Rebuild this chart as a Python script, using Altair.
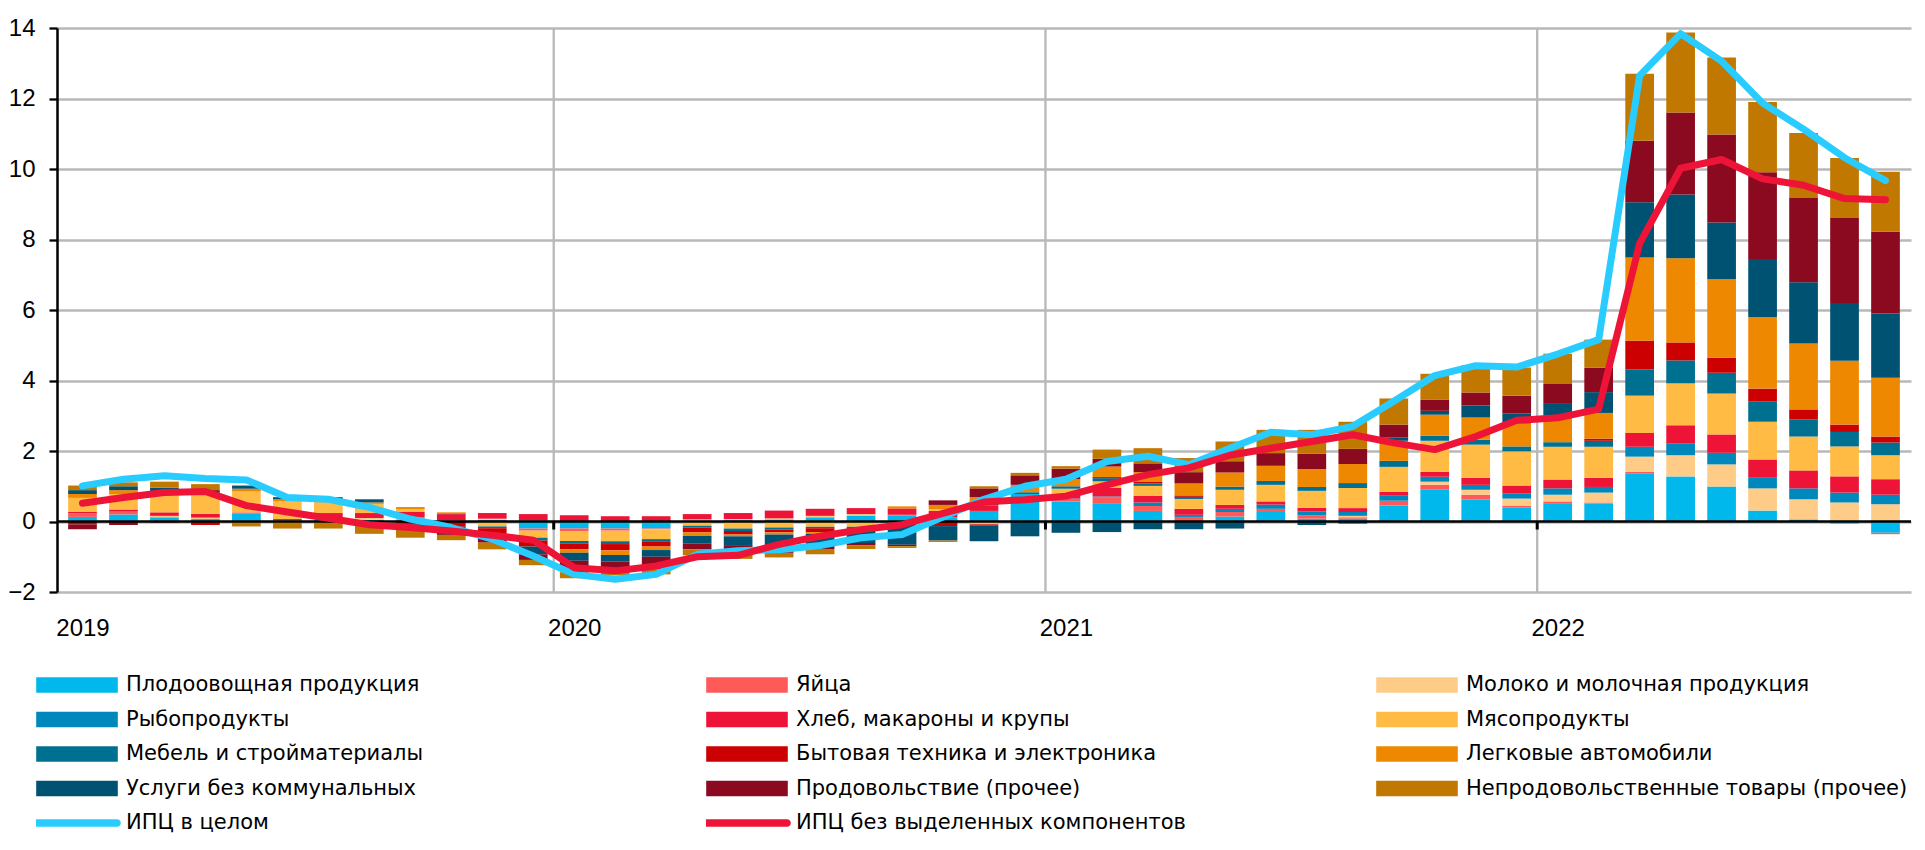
import altair as alt
import pandas as pd

# ---------------- data ----------------
years = ["2019", "2020", "2021", "2022"]
n_months = 45  # Jan 2019 .. Sep 2022

series = [
    "Плодоовощная продукция", "Яйца", "Молоко и молочная продукция",
    "Рыбопродукты", "Хлеб, макароны и крупы", "Мясопродукты",
    "Мебель и стройматериалы", "Бытовая техника и электроника", "Легковые автомобили",
    "Услуги без коммунальных", "Продовольствие (прочее)", "Непродовольственные товары (прочее)",
]
colors = [
    "#00B8EC", "#FF5A5A", "#FFCC88",
    "#0087BB", "#EE1438", "#FFBB44",
    "#007090", "#CC0000", "#EE8800",
    "#005272", "#8C0A20", "#C07800",
]
line_names = ["ИПЦ в целом", "ИПЦ без выделенных компонентов"]
line_colors = ["#29CCFF", "#EE1438"]

plod = [.13, .20, .12, .07, .22, .03, .05, .05, 0, .03,
        .05, -.20, -.20, -.20, -.20, .03, .04, .06, .12, .17,
        .18, .12, .30, .78, .57, .52, .30, 0, .14, .27,
        .08, .08, .45, .90, .62, .39, .52, .51, 1.37, 1.28,
        .99, .31, .06, -.06, -.32]
eggs = [.10, .08, 0, 0, .04, 0, 0, 0, .06, 0,
        0, -.06, -.08, -.06, -.02, 0, 0, 0, 0, 0,
        0, 0, 0, 0, .05, .17, .14, .13, .13, .09,
        .09, .04, .14, .14, .14, .06, .05, .03, .04, 0,
        0, 0, 0, 0, -.04]
milk = [0, 0, .04, .04, 0, 0, .05, .05, .05, 0,
        .03, 0, 0, 0, 0, .03, .03, .03, .04, .04,
        .01, 0, 0, 0, 0, 0, 0, 0, 0, 0,
        0, .04, 0, .09, .14, .20, .19, .28, .43, .60,
        .63, .63, .57, .54, .49]
fish = [0, 0, 0, 0, 0, 0, 0, 0, 0, 0,
        0, .03, 0, 0, 0, 0, 0, 0, 0, 0,
        0, 0, 0, 0, .03, .02, .10, .06, .09, .12,
        .11, .11, .14, .14, .14, .14, .18, .16, .28, .34,
        .33, .30, .31, .28, .27]
bread = [.04, .06, .10, .11, 0, .04, .14, .14, .16, .18,
         .16, .18, .18, .15, .15, .15, .17, .22, .20, .17,
         .18, .18, .15, 0, .08, .24, .19, .17, .11, .09,
         .11, .11, .11, .14, .20, .23, .25, .26, .39, .51,
         .52, .52, .51, .46, .44]
meat = [.40, .44, .55, .57, .59, .50, .30, .26, .08, 0,
        -.14, -.20, -.27, -.30, -.28, -.12, -.20, -.17, -.15, -.15,
        -.06, .05, -.08, 0, .20, .19, .28, .28, .43, .47,
        .48, .57, .71, .88, .94, .97, .93, .88, 1.06, 1.19,
        1.16, 1.07, .96, .85, .68]
furniture = [0, 0, 0, 0, 0, 0, 0, 0, 0, .02,
             -.05, -.08, -.08, -.08, -.06, -.05, -.07, -.06, -.04, -.04,
             0, 0, .05, .05, .07, .09, .07, .06, .09, .11,
             .11, .14, .17, .14, .14, .14, .13, .17, .74, .65,
             .59, .57, .49, .41, .36]
appliances = [-.08, 0, -.03, -.10, 0, 0, 0, 0, -.08, -.15,
              -.14, -.17, -.16, -.18, -.15, -.14, -.10, -.08, -.11, 0,
              0, -.13, -.04, 0, 0, .03, .04, .04, 0, 0,
              0, 0, 0, 0, 0, 0, 0, .06, .82, .51,
              .43, .37, .28, .21, .17]
cars = [.11, .11, .05, 0, .08, .06, .05, .04, .06, .03,
        0, 0, -.10, -.13, -.10, -.10, -.05, -.06, -.05, 0,
        .06, .12, .19, .21, .20, .30, .28, .34, .40, .43,
        .51, .54, .57, .60, .63, .65, .76, .73, 2.36, 2.39,
        2.22, 2.03, 1.87, 1.81, 1.67]
services = [.11, .11, .10, .04, .09, .06, .10, .09, -.08, -.05,
            -.03, -.22, -.22, -.19, -.19, -.21, -.25, -.33, -.33, -.42,
            -.60, -.41, -.44, -.42, -.32, -.30, -.22, -.22, -.20, 0,
            -.10, -.06, .09, .11, .34, .28, .35, .59, 1.57, 1.81,
            1.61, 1.65, 1.74, 1.64, 1.82]
food_other = [-.14, -.10, 0, .06, 0, 0, 0, 0, 0, -.18,
              -.24, -.16, -.33, -.28, -.36, -.17, -.15, -.19, -.10, -.06,
              -.04, .13, .25, .27, .30, .22, .25, .32, .32, .36,
              .43, .43, .37, .31, .37, .51, .54, .69, 1.74, 2.32,
              2.50, 2.46, 2.39, 2.41, 2.32]
nonfood_other = [.13, .11, .17, .17, -.14, -.20, -.20, -.35, -.30, -.15,
                 -.19, -.15, -.17, -.11, -.14, -.17, -.24, -.13, -.15, -.11,
                 -.05, -.04, .06, .07, .07, .26, .43, .40, .56, .66,
                 .68, .77, .74, .74, .77, .80, .86, .80, 1.90, 2.27,
                 2.18, 1.99, 1.84, 1.70, 1.70]

cpi = [1.01, 1.20, 1.30, 1.22, 1.18, 0.68, 0.63, 0.40, 0.07,
       -0.17, -0.50, -0.98, -1.50, -1.64, -1.50, -0.93, -0.83,
       -0.80, -0.68, -0.46, -0.37, 0.13, 0.63, 1.00, 1.20,
       1.70, 1.85, 1.61, 2.08, 2.53, 2.46, 2.70, 3.41, 4.14, 4.42, 4.38,
       4.75, 5.16, 12.65, 13.84, 13.06, 11.87, 11.13, 10.32, 9.67]
core = [0.52, 0.68, 0.82, 0.85, 0.45, 0.27, 0.09, -0.09, -0.17,
        -0.27, -0.39, -0.53, -1.31, -1.40, -1.26, -1.00, -0.96,
        -0.65, -0.42, -0.23, -0.09, 0.23, 0.55, 0.62, 0.72,
        1.04, 1.33, 1.52, 1.88, 2.08, 2.27, 2.46, 2.23, 2.04, 2.41, 2.87,
        2.94, 3.19, 7.89, 10.02, 10.27, 9.72, 9.54, 9.16, 9.13]

component_values = [plod, eggs, milk, fish, bread, meat, furniture, appliances,
                    cars, services, food_other, nonfood_other]

# ---------------- tables ----------------
bar_rows = []
for k, (name, arr) in enumerate(zip(series, component_values)):
    for t, v in enumerate(arr):
        if v != 0:
            bar_rows.append({"t": t, "series": name, "k": k, "v": v})
bars_df = pd.DataFrame(bar_rows)

line_rows = []
for name, arr in zip(line_names, [cpi, core]):
    for t, v in enumerate(arr):
        line_rows.append({"t": t, "series": name, "v": v})
lines_df = pd.DataFrame(line_rows)

year_starts = [12 * i for i in range(len(years))]
bounds_df = pd.DataFrame({"b": [s - 0.5 for s in year_starts[1:]]})
zero_df = pd.DataFrame({"y": [0]})

# ---------------- scales ----------------
xscale = alt.Scale(domain=[-0.5, n_months - 0.5], nice=False, zero=False)
yscale = alt.Scale(domain=[-2, 14], nice=False)

# legend is laid out column by column: 3 columns, 5 rows
all_names = series + line_names
all_colors = colors + line_colors
col1 = [series[0], series[3], series[6], series[9], line_names[0]]
col2 = [series[1], series[4], series[7], series[10], line_names[1]]
col3 = [series[2], series[5], series[8], series[11]]
legend_order = col1 + col2 + col3
color_lookup = dict(zip(all_names, all_colors))
color_scale = alt.Scale(domain=legend_order, range=[color_lookup[n] for n in legend_order])

rect_path = "M-1,-0.1875L1,-0.1875L1,0.1875L-1,0.1875Z"
caps_path = ("M-0.98,-0.094L0.98,-0.094A0.094,0.094,0,0,1,0.98,0.094"
             "L-0.98,0.094A0.094,0.094,0,0,1,-0.98,-0.094Z")
sym_expr = f"indexof(datum.value, 'ИПЦ') == 0 ? '{caps_path}' : '{rect_path}'"

label_expr = "[" + ",".join(f"'{y}'" for y in years) + "][round(datum.value / 12)]"

x_axis = alt.Axis(values=year_starts, labelExpr=label_expr, grid=False, ticks=False,
                  tickSize=0, domain=False, labelFont="Liberation Sans", labelFontSize=24,
                  labelColor="black", labelPadding=24, labelAngle=0, title=None)
y_axis = alt.Axis(values=list(range(-2, 15, 2)), grid=True, gridColor="#b8b8b8",
                  gridWidth=2.3, domain=True, domainColor="black", domainWidth=2.5,
                  ticks=True, tickColor="black", tickWidth=2.3, tickSize=8,
                  labelFont="Liberation Sans", labelFontSize=24, labelColor="black",
                  labelPadding=14, title=None)

legend = alt.Legend(
    orient="none", legendX=-21, legendY=644, columns=3, title=None,
    symbolType=alt.ExprRef(expr=sym_expr), symbolSize=6659, symbolStrokeWidth=0,
    symbolOpacity=1, labelFont="DejaVu Sans", labelFontSize=21, labelColor="black",
    labelOffset=8, labelLimit=700, clipHeight=26, rowPadding=8.5,
    columnPadding=138, gridAlign="all",
)

bars = alt.Chart(bars_df).mark_bar(size=28.7).encode(
    x=alt.X("t:Q", scale=xscale, axis=x_axis),
    y=alt.Y("v:Q", scale=yscale, axis=y_axis, stack="zero"),
    color=alt.Color("series:N", scale=color_scale, legend=legend),
    order=alt.Order("k:Q", sort="ascending"),
)

grid_v = alt.Chart(bounds_df).mark_rule(color="#b8b8b8", strokeWidth=2.3).encode(
    x=alt.X("b:Q", scale=xscale, axis=x_axis)
)

zero_line = alt.Chart(zero_df).mark_rule(color="black", strokeWidth=2.6).encode(
    y=alt.Y("y:Q", scale=yscale, axis=y_axis)
)

year_ticks = alt.Chart(bounds_df).mark_rule(color="black", strokeWidth=3, y2Offset=8).encode(
    x=alt.X("b:Q", scale=xscale, axis=x_axis),
    y=alt.datum(0),
    y2=alt.datum(0),
)

lines = alt.Chart(lines_df).mark_line(strokeWidth=7, strokeJoin="round", strokeCap="round").encode(
    x=alt.X("t:Q", scale=xscale, axis=x_axis),
    y=alt.Y("v:Q", scale=yscale, axis=y_axis, stack=None),
    color=alt.Color("series:N", scale=color_scale, legend=None),
)

chart = alt.layer(bars, grid_v, zero_line, year_ticks, lines).properties(
    width=1854, height=564,
    padding={"left": 49, "top": 20, "right": 6, "bottom": 250},
    autosize=alt.AutoSizeParams(type="none"),
).configure(font="DejaVu Sans").configure_view(stroke=None)

chart.save("out.html", embed_options={"renderer": "svg", "actions": False})
